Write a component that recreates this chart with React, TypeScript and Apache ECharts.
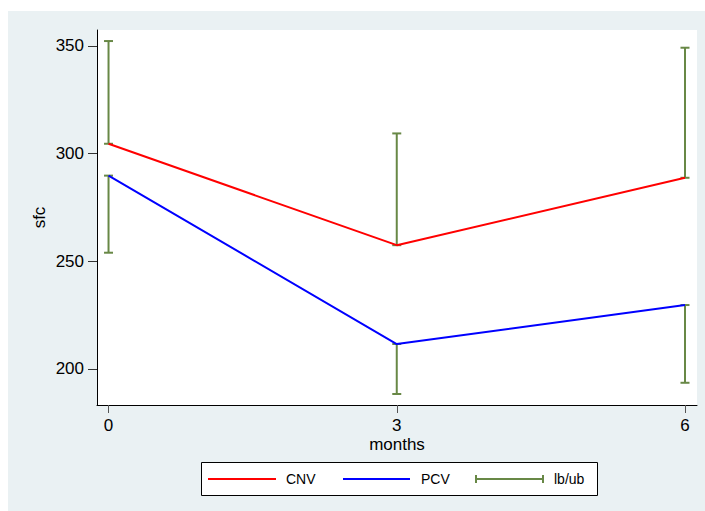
import React, { useEffect, useRef } from "react";
import * as echarts from "echarts";

const months = [0, 3, 6];
const cnv = [304.6, 257.5, 288.8];
const pcv = [289.8, 211.6, 229.7];
const cnvLb = [304.6, 257.5, 288.8];
const cnvUb = [352.3, 309.4, 349.2];
const pcvLb = [254.0, 188.4, 193.6];
const pcvUb = [289.8, 211.6, 229.7];
const xTicks = [0, 3, 6];
const yTicks = [200, 250, 300, 350];

const GREEN = "#688846";
const FONT = "Liberation Sans, Arial, sans-serif";
const LY = 479;

export default function App() {
  const ref = useRef<HTMLDivElement>(null);
  useEffect(() => {
    if (!ref.current) return;
    const chart = echarts.init(ref.current, undefined, { renderer: "svg" });
    const bars: number[][] = [];
    months.forEach((m, i) => {
      bars.push([m, cnvLb[i], cnvUb[i]]);
      bars.push([m, pcvLb[i], pcvUb[i]]);
    });
    const option: any = {
      animation: false,
      textStyle: { fontFamily: FONT },
      grid: {
        left: 97,
        top: 30,
        right: 8,
        bottom: 106,
        show: true,
        backgroundColor: "#ffffff",
        borderWidth: 0,
      },
      graphic: [
        {
          type: "rect",
          z: -10,
          silent: true,
          shape: { x: 8, y: 11, width: 697, height: 500 },
          style: { fill: "#EAF1F3" },
        },
        {
          type: "group",
          children: [
            {
              type: "rect",
              shape: { x: 201.5, y: 462.5, width: 396, height: 33 },
              style: { fill: "#ffffff", stroke: "#000000", lineWidth: 1 },
            },
            { type: "line", shape: { x1: 208, y1: LY, x2: 276, y2: LY }, style: { stroke: "#FF0000", lineWidth: 2 } },
            { type: "text", x: 286, y: LY, style: { text: "CNV", fill: "#000", font: `14px ${FONT}`, verticalAlign: "middle" } },
            { type: "line", shape: { x1: 343, y1: LY, x2: 410, y2: LY }, style: { stroke: "#0000FF", lineWidth: 2 } },
            { type: "text", x: 421, y: LY, style: { text: "PCV", fill: "#000", font: `14px ${FONT}`, verticalAlign: "middle" } },
            { type: "line", shape: { x1: 476, y1: LY, x2: 543, y2: LY }, style: { stroke: GREEN, lineWidth: 2 } },
            { type: "line", shape: { x1: 476, y1: LY - 4, x2: 476, y2: LY + 4 }, style: { stroke: GREEN, lineWidth: 2 } },
            { type: "line", shape: { x1: 543, y1: LY - 4, x2: 543, y2: LY + 4 }, style: { stroke: GREEN, lineWidth: 2 } },
            { type: "text", x: 554, y: LY, style: { text: "lb/ub", fill: "#000", font: `14px ${FONT}`, verticalAlign: "middle" } },
          ],
        },
      ],
      xAxis: {
        type: "value",
        min: -0.12,
        max: 6.125,
        name: "months",
        nameLocation: "middle",
        nameGap: 31,
        nameMoveOverlap: false,
        nameTextStyle: { fontSize: 17, color: "#000", fontFamily: FONT, lineHeight: 17 },
        splitLine: { show: false },
        axisLine: { show: true, onZero: false, lineStyle: { color: "#000", width: 1 } },
        axisTick: { show: true, length: 8, customValues: xTicks, lineStyle: { color: "#555" } },
        axisLabel: { customValues: xTicks, fontSize: 17, color: "#000", margin: 12, fontFamily: FONT, lineHeight: 17 },
      },
      yAxis: {
        type: "value",
        min: 183.28,
        max: 357.43,
        name: "sfc",
        nameLocation: "middle",
        nameGap: 49,
        nameMoveOverlap: false,
        nameTextStyle: { fontSize: 17, color: "#000", fontFamily: FONT },
        splitLine: { show: false },
        axisLine: { show: true, onZero: false, lineStyle: { color: "#000", width: 1 } },
        axisTick: { show: true, length: 9, customValues: yTicks, lineStyle: { color: "#333" } },
        axisLabel: { customValues: yTicks, fontSize: 17, color: "#000", margin: 13, fontFamily: FONT },
      },
      series: [
        {
          name: "CNV",
          type: "line",
          data: months.map((m, i) => [m, cnv[i]]),
          showSymbol: false,
          symbol: "none",
          lineStyle: { color: "#FF0000", width: 2 },
          z: 3,
        },
        {
          name: "PCV",
          type: "line",
          data: months.map((m, i) => [m, pcv[i]]),
          showSymbol: false,
          symbol: "none",
          lineStyle: { color: "#0000FF", width: 2 },
          z: 3,
        },
        {
          name: "lb/ub",
          type: "custom",
          data: bars,
          z: 2,
          renderItem: (params: any, api: any) => {
            const x = api.value(0);
            const lo = api.coord([x, api.value(1)]);
            const hi = api.coord([x, api.value(2)]);
            const hw = 4.5;
            const st = { stroke: GREEN, lineWidth: 2 };
            return {
              type: "group",
              children: [
                { type: "line", shape: { x1: lo[0], y1: lo[1], x2: hi[0], y2: hi[1] }, style: st },
                { type: "line", shape: { x1: lo[0] - hw, y1: lo[1], x2: lo[0] + hw, y2: lo[1] }, style: st },
                { type: "line", shape: { x1: hi[0] - hw, y1: hi[1], x2: hi[0] + hw, y2: hi[1] }, style: st },
              ],
            };
          },
        },
      ],
    };
    chart.setOption(option);
    return () => chart.dispose();
  }, []);
  return (
    <div
      ref={ref}
      style={{ position: "absolute", left: 0, top: 0, width: 705, height: 511 }}
    />
  );
}
